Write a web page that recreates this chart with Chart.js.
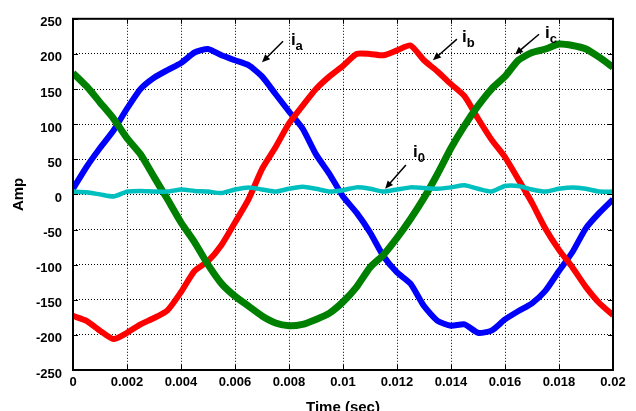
<!DOCTYPE html>
<html>
<head>
<meta charset="utf-8">
<script src="https://cdn.jsdelivr.net/npm/chart.js@4"></script>
<style>
  body { margin: 0; background: #fff; }
  canvas { display: block; }
</style>
</head>
<body>
<canvas id="correntes" width="636" height="411"></canvas>
<script>
const tempo = [0, 0.0005, 0.001, 0.0015, 0.002, 0.0025, 0.003, 0.0035, 0.004, 0.0045,
  0.005, 0.0055, 0.006, 0.0065, 0.007, 0.0075, 0.008, 0.0085, 0.009, 0.0095,
  0.01, 0.0105, 0.011, 0.0115, 0.012, 0.0125, 0.013, 0.0135, 0.014, 0.0145,
  0.015, 0.0155, 0.016, 0.0165, 0.017, 0.0175, 0.018, 0.0185, 0.019, 0.0195, 0.02];

const ia = [8, 39, 66, 91, 122, 150, 166, 177, 187, 202,
  207, 198, 191, 184, 168, 143, 118, 94, 57, 29,
  -3, -26, -54, -88, -111, -127, -159, -180, -187, -185,
  -197, -194, -178, -166, -155, -137, -109, -82, -48, -26, -7];

const ib = [-173, -180, -194, -206, -197, -185, -176, -165, -139, -109,
  -95, -72, -40, -7, 36, 67, 101, 126, 150, 168,
  183, 200, 200, 198, 205, 212, 191, 175, 157, 140,
  108, 78, 53, 21, -12, -49, -79, -104, -132, -155, -172];

const ic = [173, 154, 131, 108, 80, 57, 25, -7, -40, -68,
  -100, -127, -145, -159, -173, -183, -187, -185, -178, -169,
  -153, -132, -104, -86, -62, -35, -5, 29, 66, 98,
  126, 150, 168, 191, 202, 207, 214, 212, 207, 195, 181];

const i0 = [4, 3, 0, -3, 4, 5, 4, 4, 7, 5,
  4, 2, 7, 10, 7, 4, 8, 11, 8, 4,
  6, 10, 8, 4, 7, 10, 9, 8, 10, 13,
  8, 4, 12, 12, 7, 4, 8, 10, 8, 4, 4];

const xTicks = [0, 0.002, 0.004, 0.006, 0.008, 0.01, 0.012, 0.014, 0.016, 0.018, 0.02];
const xTickLabels = ['0', '0.002', '0.004', '0.006', '0.008', '0.01', '0.012', '0.014', '0.016', '0.018', '0.02'];
const yTicks = [-250, -200, -150, -100, -50, 0, 50, 100, 150, 200, 250];
const yTickLabels = ['-250', '-200', '-150', '-100', '-50', '0', '50', '100', '150', '200', '250'];

// labels with arrows, in data coordinates (tempo, Amp)
const rotulos = [
  { nome: 'i', sub: 'a', t: 0.00807, v: 213, de: [0.00778, 218], para: [0.0070, 188] },
  { nome: 'i', sub: 'b', t: 0.01441, v: 217, de: [0.01422, 221], para: [0.01333, 191] },
  { nome: 'i', sub: 'c', t: 0.01748, v: 222, de: [0.01726, 228], para: [0.01637, 199] },
  { nome: 'i', sub: '0', t: 0.01259, v: 53, de: [0.01233, 42], para: [0.01156, 8] }
];

function serie(valores) {
  return valores.map((v, i) => ({ x: tempo[i], y: v }));
}

const moldura = {
  id: 'moldura',
  afterDraw(chart) {
    const ctx = chart.ctx;
    const a = chart.chartArea;
    const sx = chart.scales.x;
    const sy = chart.scales.y;
    ctx.save();
    ctx.strokeStyle = '#000';
    ctx.lineWidth = 1;
    ctx.beginPath();
    xTicks.forEach(t => {
      const px = Math.round(sx.getPixelForValue(t)) + 0.5;
      ctx.moveTo(px, a.bottom); ctx.lineTo(px, a.bottom - 5);
      ctx.moveTo(px, a.top); ctx.lineTo(px, a.top + 5);
    });
    yTicks.forEach(v => {
      const py = Math.round(sy.getPixelForValue(v)) + 0.5;
      ctx.moveTo(a.left, py); ctx.lineTo(a.left + 5, py);
      ctx.moveTo(a.right, py); ctx.lineTo(a.right - 5, py);
    });
    ctx.stroke();
    ctx.lineWidth = 2;
    ctx.strokeRect(a.left, a.top, a.right - a.left, a.bottom - a.top);

    // rotulos das correntes
    rotulos.forEach(r => {
      const x1 = sx.getPixelForValue(r.de[0]);
      const y1 = sy.getPixelForValue(r.de[1]);
      const x2 = sx.getPixelForValue(r.para[0]);
      const y2 = sy.getPixelForValue(r.para[1]);
      const ang = Math.atan2(y2 - y1, x2 - x1);
      ctx.lineWidth = 1.5;
      ctx.beginPath();
      ctx.moveTo(x1, y1);
      ctx.lineTo(x2 - 5 * Math.cos(ang), y2 - 5 * Math.sin(ang));
      ctx.stroke();
      ctx.fillStyle = '#000';
      ctx.beginPath();
      ctx.moveTo(x2, y2);
      ctx.lineTo(x2 - 8 * Math.cos(ang) + 3.5 * Math.sin(ang), y2 - 8 * Math.sin(ang) - 3.5 * Math.cos(ang));
      ctx.lineTo(x2 - 8 * Math.cos(ang) - 3.5 * Math.sin(ang), y2 - 8 * Math.sin(ang) + 3.5 * Math.cos(ang));
      ctx.closePath();
      ctx.fill();

      const tx = sx.getPixelForValue(r.t);
      const ty = sy.getPixelForValue(r.v);
      ctx.textAlign = 'left';
      ctx.textBaseline = 'alphabetic';
      ctx.font = 'bold 17px "Liberation Sans", Arial, sans-serif';
      ctx.fillText(r.nome, tx, ty);
      const w = ctx.measureText(r.nome).width;
      ctx.font = 'bold 13px "Liberation Sans", Arial, sans-serif';
      ctx.fillText(r.sub, tx + w, ty + 5);
    });
    ctx.restore();
  }
};

function gerarGrafico() {
  const ctx = document.getElementById('correntes').getContext('2d');
  const fonteTicks = { family: '"Liberation Sans", Arial, sans-serif', size: 13, weight: 'bold' };
  const fonteTitulo = { family: '"Liberation Sans", Arial, sans-serif', size: 15, weight: 'bold' };

  return new Chart(ctx, {
    type: 'line',
    data: {
      datasets: [{
        label: 'i0',
        data: serie(i0),
        borderColor: '#00bfbf',
        borderWidth: 4.5,
        order: 0
      }, {
        label: 'ic',
        data: serie(ic),
        borderColor: '#008000',
        borderWidth: 7,
        order: 1
      }, {
        label: 'ib',
        data: serie(ib),
        borderColor: '#ff0000',
        borderWidth: 6,
        order: 2
      }, {
        label: 'ia',
        data: serie(ia),
        borderColor: '#0000ff',
        borderWidth: 6,
        order: 3
      }]
    },
    options: {
      responsive: false,
      animation: false,
      devicePixelRatio: 1,
      layout: { padding: { top: 8, right: 23, left: 0, bottom: 0 } },
      elements: { point: { radius: 0 }, line: { tension: 0.2 } },
      plugins: { legend: { display: false }, tooltip: { enabled: false } },
      scales: {
        x: {
          type: 'linear',
          min: 0,
          max: 0.02,
          afterFit: s => { s.height = 41; },
          afterBuildTicks: s => { s.ticks = xTicks.map(v => ({ value: v })); },
          ticks: {
            callback: (v, i) => xTickLabels[i],
            font: fonteTicks,
            color: '#000',
            padding: 5,
            maxRotation: 0,
            autoSkip: false
          },
          grid: { color: '#000', lineWidth: 1, drawTicks: false },
          border: { display: false, dash: [1, 2] },
          title: { display: true, text: 'Time (sec)', font: fonteTitulo, color: '#000', padding: { top: 0, bottom: -6 } }
        },
        y: {
          min: -250,
          max: 250,
          afterFit: s => { s.width = 73; },
          afterBuildTicks: s => { s.ticks = yTicks.map(v => ({ value: v })); },
          ticks: {
            callback: (v, i) => yTickLabels[i],
            font: fonteTicks,
            color: '#000',
            padding: 11,
            labelOffset: 4,
            autoSkip: false
          },
          grid: { color: '#000', lineWidth: 1, drawTicks: false },
          border: { display: false, dash: [1, 2] },
          title: { display: true, text: 'Amp', font: fonteTitulo, color: '#000', padding: { top: 10, bottom: 0 } }
        }
      }
    },
    plugins: [moldura]
  });
}

gerarGrafico();
</script>
</body>
</html>
